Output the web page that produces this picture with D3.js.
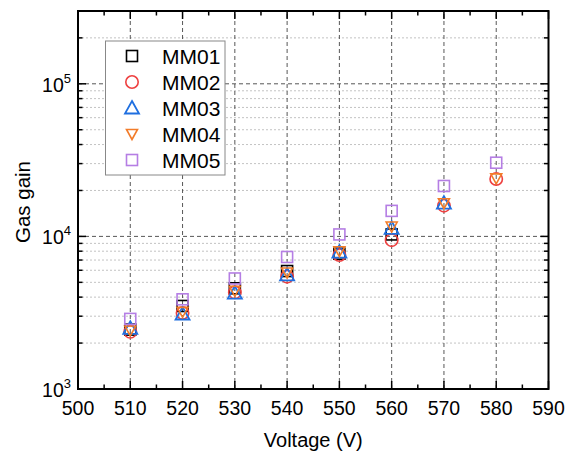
<!DOCTYPE html>
<html>
<head>
<meta charset="utf-8">
<script src="https://cdn.jsdelivr.net/npm/d3@7"></script>
<style>
  body { margin: 0; background: #fff; }
  text { font-family: Arial, "Liberation Sans", sans-serif; }
</style>
</head>
<body>
<div id="chart"></div>
<script>
const voltages = [510, 520, 530, 540, 550, 560, 570, 580]
const mm01 = [2450, 3500, 4570, 5930, 7700, 10300, null, null]
const mm02 = [2370, 3150, 4300, 5450, 7550, 9450, 15900, 23800]
const mm03 = [2500, 3100, 4250, 5600, 7900, 11300, 16500, null]
const mm04 = [2420, 3200, 4400, 5800, 8000, 11600, 16500, 24000]
const mm05 = [2880, 3870, 5300, 7330, 10300, 14700, 21400, 30400]
const seriesNames = ['MM01', 'MM02', 'MM03', 'MM04', 'MM05']
const xTicks = [500, 510, 520, 530, 540, 550, 560, 570, 580, 590]
const yTicks = [1e3, 1e4, 1e5]

const W = 569
const H = 455
const m = { left: 78, right: 20.5, top: 11, bottom: 66 }

const series = [
  { name: 'MM01', values: mm01, color: '#000000', shape: 'square' },
  { name: 'MM02', values: mm02, color: '#ee4040', shape: 'circle' },
  { name: 'MM03', values: mm03, color: '#1f6fe0', shape: 'up' },
  { name: 'MM04', values: mm04, color: '#f27c2a', shape: 'down' },
  { name: 'MM05', values: mm05, color: '#b57ee4', shape: 'square' }
]

const svg = d3.select('#chart').append('svg').attr('width', W).attr('height', H)

const x = d3.scaleLinear().domain([500, 590]).range([m.left, W - m.right])
const y = d3.scaleLog().domain([1e3, 3e5]).range([H - m.bottom, m.top])

const x0 = m.left
const x1 = W - m.right
const y0 = H - m.bottom
const y1 = m.top

// minor y values
const yMinor = []
for (let d = 1e3; d < 3e5; d *= 10) {
  for (let k = 2; k <= 9; k++) {
    if (d * k <= 3e5) yMinor.push(d * k)
  }
}
const xMinor = d3.range(505, 590, 10)

const grid = svg.append('g')
grid.selectAll('.hmin').data(yMinor.filter(v => v < 3e5)).enter().append('line')
  .attr('x1', x0).attr('x2', x1)
  .attr('y1', d => y(d)).attr('y2', d => y(d))
  .attr('stroke', '#b4b4b4').attr('stroke-width', 0.8).attr('stroke-dasharray', '2,2')
grid.selectAll('.hmaj').data(yTicks.slice(1)).enter().append('line')
  .attr('x1', x0).attr('x2', x1)
  .attr('y1', d => y(d)).attr('y2', d => y(d))
  .attr('stroke', '#444').attr('stroke-width', 0.9).attr('stroke-dasharray', '4,3')
grid.selectAll('.vmaj').data(xTicks.slice(1, -1)).enter().append('line')
  .attr('x1', d => x(d)).attr('x2', d => x(d))
  .attr('y1', y0).attr('y2', y1)
  .attr('stroke', '#444').attr('stroke-width', 0.9).attr('stroke-dasharray', '4,3')

// axes with inward ticks
const axisG = svg.append('g')
const tickLine = (x1_, y1_, x2_, y2_) => axisG.append('line')
  .attr('x1', x1_).attr('y1', y1_).attr('x2', x2_).attr('y2', y2_)
  .attr('stroke', '#000').attr('stroke-width', 1.5)

xTicks.forEach(v => {
  tickLine(x(v), y0, x(v), y0 - 8)
  tickLine(x(v), y1, x(v), y1 + 8)
})
xMinor.forEach(v => {
  tickLine(x(v), y0, x(v), y0 - 4.5)
  tickLine(x(v), y1, x(v), y1 + 4.5)
})
yTicks.forEach(v => {
  tickLine(x0, y(v), x0 + 8, y(v))
  tickLine(x1, y(v), x1 - 8, y(v))
})
yMinor.forEach(v => {
  tickLine(x0, y(v), x0 + 4.5, y(v))
  tickLine(x1, y(v), x1 - 4.5, y(v))
})

svg.append('rect')
  .attr('x', x0).attr('y', y1).attr('width', x1 - x0).attr('height', y0 - y1)
  .attr('fill', 'none').attr('stroke', '#000').attr('stroke-width', 2)

// tick labels
svg.append('g').selectAll('text').data(xTicks).enter().append('text')
  .attr('x', d => x(d)).attr('y', y0 + 26)
  .attr('text-anchor', 'middle').attr('font-size', 19.5)
  .text(d => d)

const yl = svg.append('g').selectAll('text').data(yTicks).enter().append('text')
  .attr('x', 71).attr('y', d => y(d) + 8)
  .attr('text-anchor', 'end').attr('font-size', 19.5)
yl.append('tspan').text('10')
yl.append('tspan').attr('font-size', 13).attr('dy', -9).text(d => Math.round(Math.log10(d)))

svg.append('text')
  .attr('x', (x0 + x1) / 2).attr('y', 447)
  .attr('text-anchor', 'middle').attr('font-size', 20)
  .text('Voltage (V)')
svg.append('text')
  .attr('transform', 'translate(30, 202) rotate(-90)')
  .attr('text-anchor', 'middle').attr('font-size', 20.5)
  .text('Gas gain')

function drawMarker (g, shape, color) {
  if (shape === 'square') {
    g.append('rect').attr('x', -5.5).attr('y', -5.5).attr('width', 11).attr('height', 11)
      .attr('fill', 'none').attr('stroke', color).attr('stroke-width', 1.6)
  } else if (shape === 'circle') {
    g.append('circle').attr('r', 6.2)
      .attr('fill', 'none').attr('stroke', color).attr('stroke-width', 1.6)
  } else if (shape === 'up') {
    g.append('path').attr('d', 'M0,-7 L7,5.5 L-7,5.5 Z')
      .attr('fill', 'none').attr('stroke', color).attr('stroke-width', 1.8)
  } else {
    g.append('path').attr('d', 'M-5.5,-4.5 L5.5,-4.5 L0,5.5 Z')
      .attr('fill', 'none').attr('stroke', color).attr('stroke-width', 1.6)
  }
}

const pts = svg.append('g')
series.forEach(s => {
  s.values.forEach((v, i) => {
    if (v == null) return
    const g = pts.append('g').attr('transform', `translate(${x(voltages[i])},${y(v)})`)
    drawMarker(g, s.shape, s.color)
  })
})

// legend
const leg = svg.append('g')
leg.append('rect').attr('x', 105.5).attr('y', 41).attr('width', 119.5).attr('height', 134)
  .attr('fill', '#fff').attr('stroke', '#888').attr('stroke-width', 1)
series.forEach((s, i) => {
  const cy = 56 + i * 26
  const g = leg.append('g').attr('transform', `translate(132,${cy})`)
  drawMarker(g, s.shape, s.color)
  leg.append('text').attr('x', 162).attr('y', cy + 7.5)
    .attr('font-size', 21).text(seriesNames[i])
})
</script>
</body>
</html>
